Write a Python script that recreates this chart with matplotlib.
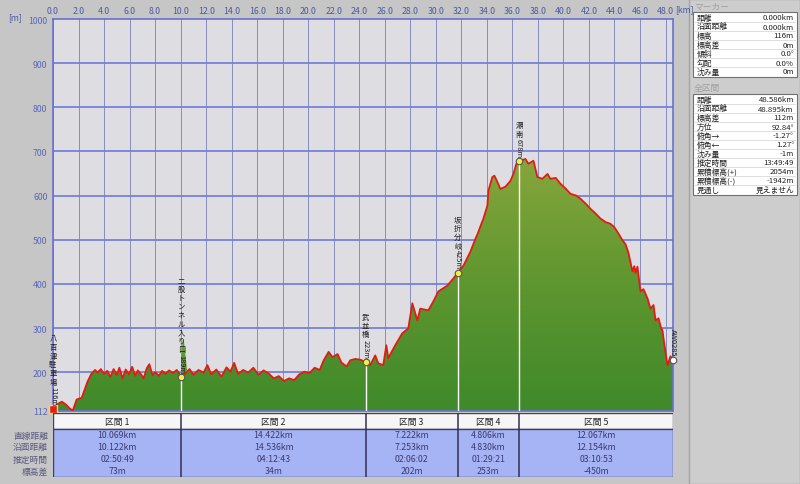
import matplotlib

matplotlib.use("Agg")
import matplotlib.pyplot as plt  # noqa: E402
import numpy as np  # noqa: E402
from matplotlib.colors import LinearSegmentedColormap  # noqa: E402
from matplotlib.patches import Polygon, Rectangle  # noqa: E402

plt.rcParams["font.family"] = ["Noto Sans CJK JP", "DejaVu Sans"]

# elevation profile
dist_km = [
    0.0, 0.35, 0.7, 1.0, 1.3, 1.55, 1.85, 2.25, 2.7, 3.0,
    3.3, 3.5, 3.75, 4.0, 4.25, 4.5, 4.75, 5.0, 5.2, 5.45,
    5.7, 5.95, 6.2, 6.45, 6.65, 6.9, 7.1, 7.35, 7.55, 7.8,
    8.0, 8.3, 8.55, 8.8, 9.1, 9.4, 9.7, 10.069,
    10.4, 10.7, 11.0, 11.4, 11.8, 12.1, 12.4, 12.8, 13.2, 13.6,
    13.9, 14.2, 14.5, 14.9, 15.3, 15.7, 16.1, 16.5, 16.9, 17.3,
    17.7, 18.1, 18.5, 18.9, 19.3, 19.7, 20.1, 20.5, 20.9, 21.2,
    21.6, 21.9, 22.3, 22.6, 23.0, 23.3, 23.7, 24.1, 24.491,
    24.86, 25.25, 25.49, 25.88, 26.12, 26.27, 26.82, 27.37, 27.84, 28.16,
    28.55, 28.78, 29.41, 29.8, 30.2, 30.9, 31.37, 31.713,
    32.16, 32.71, 33.1, 33.3, 33.49, 33.73, 34.04, 34.12, 34.43, 34.59,
    34.82, 35.06, 35.45, 35.84, 36.08, 36.31, 36.519,
    37.02, 37.25, 37.65, 37.96, 38.35, 38.75, 38.98, 39.4, 39.76, 40.2,
    40.55, 41.0, 41.33, 41.8, 42.12, 42.5, 42.9, 43.3, 43.69, 44.0,
    44.31, 44.6, 44.86, 45.1, 45.25, 45.41, 45.55, 45.65, 45.8, 46.04,
    46.27, 46.59, 46.82, 47.06, 47.22, 47.45, 47.65, 47.76, 47.84, 48.0,
    48.16, 48.39, 48.586,
]
elev_m = [
    116, 128, 133, 127, 118, 113, 138, 142, 178, 196,
    205, 199, 207, 196, 203, 189, 207, 194, 210, 186,
    206, 195, 212, 192, 204, 195, 186, 209, 218, 193,
    200, 192, 203, 196, 204, 198, 205, 189,
    198, 207, 194, 205, 199, 216, 195, 206, 190, 211,
    201, 221, 196, 205, 199, 210, 194, 204, 197, 186,
    191, 180, 186, 182, 195, 201, 198, 210, 205, 226,
    246, 234, 241, 222, 213, 227, 230, 228, 223,
    216, 238, 220, 216, 261, 232, 261, 288, 299, 356,
    317, 344, 340, 360, 383, 396, 412, 425,
    441, 473, 502, 515, 530, 548, 577, 611, 642, 645,
    631, 615, 620, 633, 649, 672, 678,
    683, 672, 679, 642, 638, 649, 638, 640, 627, 615,
    604, 600, 593, 580, 570, 560, 548, 540, 536, 528,
    514, 500, 490, 470, 450, 428, 440, 425, 439, 383,
    388, 367, 344, 352, 317, 322, 300, 295, 277, 245,
    216, 236, 228,
]

# green spike just after the tunnel marker (fill only, no red line)
spike_km = [10.07, 10.2, 10.45]
spike_m = [189, 272, 205]

marker_km = [0.0, 10.069, 24.491, 31.713, 36.519, 48.586]
marker_m = [116, 189, 223, 425, 678, 228]
marker_names = ["八百津駐車場116m", "二股トンネル入り口189m", "武並橋223m",
                "坂折分岐425m", "瀬南678m", "AW0285"]

sections = ["区間 1", "区間 2", "区間 3", "区間 4", "区間 5"]
straight_dist = ["10.069km", "14.422km", "7.222km", "4.806km", "12.067km"]
surface_dist = ["10.122km", "14.536km", "7.253km", "4.830km", "12.154km"]
est_time = ["02:50:49", "04:12:43", "02:06:02", "01:29:21", "03:10:53"]
elev_diff = ["73m", "34m", "202m", "253m", "-450m"]
row_names = ["直線距離", "沿面距離", "推定時間", "標高差"]

x_ticks = list(range(0, 49, 2))
y_ticks = [112, 200, 300, 400, 500, 600, 700, 800, 900, 1000]

marker_panel_keys = ["距離", "沿面距離", "標高", "標高差", "傾斜", "勾配", "沈み量"]
marker_panel_vals = ["0.000km", "0.000km", "116m", "0m", "0.0°", "0.0%", "0m"]
total_panel_keys = ["距離", "沿面距離", "標高差", "方位", "俯角→", "俯角←", "沈み量",
                    "推定時間", "累積標高(+)", "累積標高(-)", "見通し"]
total_panel_vals = ["48.586km", "48.895km", "112m", "92.84°", "-1.27°", "1.27°", "-1m",
                    "13:49:49", "2054m", "-1942m", "見えません"]

W, H = 800, 485
BG = "#c6c6c6"
FS = 6.3
total_km = marker_km[-1]

fig = plt.figure(figsize=(W / 100, H / 100), dpi=100, facecolor=BG)


def px_axes(left, top, right, bottom, **kw):
    return fig.add_axes([left / W, 1 - bottom / H, (right - left) / W, (bottom - top) / H], **kw)


def vertical_label(ax, x, y, text, fs=5.3):
    """Stack CJK chars upright, latin tail rotated, ending just above (x, y)."""
    i = len(text)
    while i > 0 and text[i - 1].isascii():
        i -= 1
    head, tail = text[:i], text[i:]
    off = 3.0
    kw = dict(textcoords="offset points", ha="center", va="bottom", fontsize=fs,
              color="#202020", annotation_clip=False, zorder=7)
    if tail:
        ax.annotate(tail, (x, y), xytext=(0, off), rotation=-90, **kw)
        off += 0.62 * fs * len(tail) + 0.8
    for ch in reversed(head):
        ax.annotate(ch, (x, y), xytext=(0, off), **kw)
        off += 1.18 * fs


# ---- main profile ----
ax = px_axes(53, 20, 673, 412)
ax.set_facecolor("#dedee2")
for y in y_ticks[1:-1]:
    ax.axhline(y, color="#6c78de", lw=1.2, zorder=1)
for x in x_ticks:
    ax.axvline(x, color="#7a80b8", lw=0.6, zorder=1)

verts = list(zip(dist_km, elev_m)) + [(dist_km[-1], 112), (dist_km[0], 112)]
clip = Polygon(verts, closed=True, facecolor="none", edgecolor="none")
ax.add_patch(clip)
cmap = LinearSegmentedColormap.from_list("g", ["#3f8a2a", "#5e962f", "#86a63c"])
grad = np.linspace(1, 0, 256).reshape(-1, 1)
im = ax.imshow(grad, extent=[0, total_km, 112, max(elev_m)], aspect="auto",
               cmap=cmap, origin="upper", zorder=2)
im.set_clip_path(clip)
ax.fill(spike_km, spike_m, color="#5e9a30", zorder=2)

ax.vlines(marker_km[1:-1], 112, marker_m[1:-1], color="white", lw=1, zorder=3)
ax.plot(dist_km, elev_m, color="#e41b13", lw=1.3, zorder=4)

ax.scatter(marker_km[1:-1], marker_m[1:-1], s=22, c="#f4ee3c", edgecolors="#555555",
           linewidths=0.8, zorder=5, clip_on=False)
ax.scatter(marker_km[-1:], marker_m[-1:], s=22, c="white", edgecolors="#555555",
           linewidths=0.8, zorder=5, clip_on=False)
ax.scatter(marker_km[:1], marker_m[:1], s=30, marker="s", c="#e02020", edgecolors="#f0e040",
           linewidths=1, zorder=5, clip_on=False)
for xk, ym, name in zip(marker_km, marker_m, marker_names):
    vertical_label(ax, xk, ym, name)

ax.set_xlim(0, total_km)
ax.set_ylim(112, 1000)
ax.xaxis.tick_top()
ax.set_xticks(x_ticks)
ax.set_xticklabels([f"{v:.1f}" for v in x_ticks])
ax.set_yticks(y_ticks)
ax.set_yticklabels([str(v) for v in y_ticks])
ax.tick_params(axis="x", length=0, pad=3, labelsize=FS, labelcolor="#4a5aa0")
ax.tick_params(axis="y", length=0, pad=4, labelsize=FS, labelcolor="#5a68b8")
for sp in ax.spines.values():
    sp.set_color("#6a70d0")
    sp.set_linewidth(1.2)

# ---- section table ----
tab = px_axes(53, 414, 673, 478)
tab.set_xlim(0, total_km)
tab.set_ylim(64, 0)
tab.axis("off")
tab.add_patch(Rectangle((0, 0), total_km, 16, facecolor="#f6f6f6", edgecolor="#404060", lw=1))
tab.add_patch(Rectangle((0, 16), total_km, 48, facecolor="#a6b4f6", edgecolor="#404060", lw=1))
for b in marker_km[1:-1]:
    tab.plot([b, b], [0, 64], color="#303050", lw=1.1)
rows = [straight_dist, surface_dist, est_time, elev_diff]
for j, name in enumerate(sections):
    xc = (marker_km[j] + marker_km[j + 1]) / 2
    tab.text(xc, 8, name, ha="center", va="center", fontsize=FS, color="#202020")
    for r, vals in enumerate(rows):
        tab.text(xc, 22 + 12 * r, vals[j], ha="center", va="center", fontsize=FS, color="#3a3a70")

# ---- pixel overlay: axis units, row names, side panel ----
ov = fig.add_axes([0, 0, 1, 1], zorder=10)
ov.set_xlim(0, W)
ov.set_ylim(H, 0)
ov.axis("off")
ov.patch.set_alpha(0)
ov.text(8, 18, "[m]", fontsize=FS, color="#4a5aa0", va="center")
ov.text(675, 10, "[km]", fontsize=FS, color="#4a5aa0", va="center")
for r, name in enumerate(row_names):
    ov.text(48, 436 + 12 * r, name, ha="right", va="center", fontsize=FS, color="#5a5a80")

ov.add_patch(Rectangle((689, 0), 111, H, facecolor="#cdcdcd", edgecolor="#a4a4a4", lw=1))


def panel_box(top, keys, vals, row_h=9.0, fs=5.6):
    ov.add_patch(Rectangle((693, top), 104, row_h * len(keys) + 2, facecolor="white",
                           edgecolor="#707070", lw=0.8))
    for i, (k, v) in enumerate(zip(keys, vals)):
        yc = top + 1 + row_h * (i + 0.5)
        ov.text(697, yc, k, ha="left", va="center", fontsize=fs, color="#202020")
        ov.text(794, yc, v, ha="right", va="center", fontsize=fs, color="#202020")
        if i < len(keys) - 1:
            ov.plot([695, 795], [yc + row_h / 2] * 2, color="#d0d0d0", lw=0.5)


ov.text(694, 7, "マーカー", fontsize=FS, color="#a0a0a0", va="center")
panel_box(13, marker_panel_keys, marker_panel_vals)
ov.text(694, 88, "全区間", fontsize=FS, color="#a0a0a0", va="center")
panel_box(95, total_panel_keys, total_panel_vals)

fig.savefig("out.png", dpi=100, facecolor=BG)
plt.close(fig)
